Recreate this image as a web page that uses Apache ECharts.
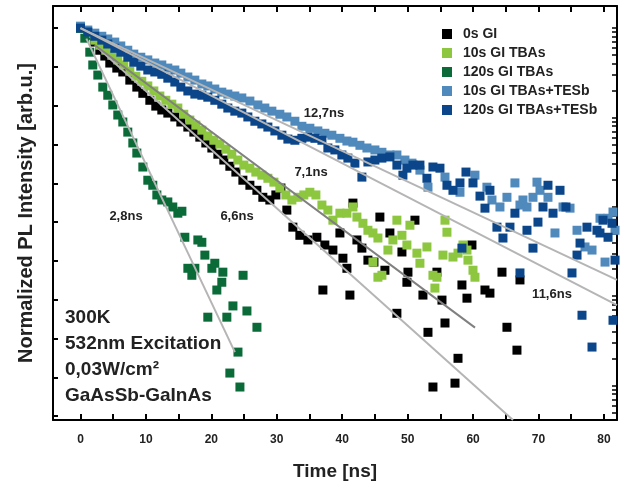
<!DOCTYPE html>
<html>
<head>
<meta charset="utf-8">
<script src="https://cdn.jsdelivr.net/npm/echarts@6/dist/echarts.min.js"></script>
<style>
  html, body { margin: 0; padding: 0; background: #fff; }
  #chart { width: 631px; height: 490px; }
</style>
</head>
<body>
<div id="chart"></div>
<script>
// time [ns] and ln(normalized PL intensity)
const t0sGI = [0,1.12,2.19,2.95,3.72,4.48,5.55,6.47,7.54,8.61,9.53,10.6,11.51,12.43,13.35,14.42,15.34,16.41,17.33,18.24,19.16,20.08,21.0,21.91,22.83,23.75,24.82,25.89,26.96,27.87,28.94,29.86,30.63,31.54,32.46,33.53,34.76,36.13,37.05,37.35,38.58,39.65,40.11,40.72,41.18,41.64,42.25,43.01,43.93,44.85,45.76,46.53,47.29,48.36,49.13,49.89,50.05,51.12,52.34,53.11,53.87,54.48,55.25,55.71,57.24,57.7,58.3,59.07,59.83,61.82,62.58,64.42,65.18,66.71,67.17];
const ln0sGI = [0,-0.18,-0.36,-0.57,-0.72,-0.90,-1.03,-1.13,-1.34,-1.52,-1.68,-1.86,-2.01,-2.11,-2.19,-2.29,-2.42,-2.55,-2.68,-2.81,-2.96,-3.09,-3.25,-3.40,-3.56,-3.71,-3.92,-4.05,-4.18,-4.36,-4.43,-4.30,-4.12,-4.69,-5.13,-5.34,-5.46,-5.39,-6.75,-5.59,-5.72,-5.28,-5.93,-6.19,-6.88,-4.51,-5.46,-5.67,-5.98,-6.03,-4.87,-6.24,-5.28,-7.35,-5.77,-6.55,-6.29,-4.95,-6.88,-7.84,-9.25,-6.29,-7.01,-7.60,-9.15,-8.51,-6.62,-6.96,-5.59,-6.75,-6.83,-6.29,-7.71,-8.30,-6.49];

const t10sTBAs = [0,1.12,2.19,2.95,3.87,4.79,5.7,6.62,7.54,8.46,9.37,10.29,11.21,12.13,13.04,13.96,14.88,15.79,16.71,17.63,18.55,19.46,20.38,21.3,22.22,23.13,24.05,24.97,25.89,26.8,27.72,28.64,29.56,30.47,31.39,32.31,33.23,34.14,35.06,35.98,36.9,37.81,38.58,39.65,40.72,41.64,42.25,43.17,43.93,44.7,44.7,45.46,45.46,46.07,46.99,47.75,48.36,49.13,49.89,50.35,51.42,51.88,52.95,53.87,54.17,54.48,55.4,55.71,56.01,56.93,57.7,58.46,59.07,59.22,59.99,60.29];
const ln10sTBAs = [0,-0.15,-0.31,-0.44,-0.57,-0.70,-0.82,-0.95,-1.11,-1.24,-1.37,-1.49,-1.62,-1.75,-1.86,-1.96,-2.06,-2.22,-2.37,-2.50,-2.63,-2.78,-2.89,-2.99,-3.12,-3.25,-3.40,-3.53,-3.61,-3.71,-3.79,-3.87,-3.97,-4.12,-4.30,-4.43,-4.36,-4.30,-4.23,-4.30,-4.56,-4.69,-4.95,-4.77,-4.77,-4.61,-4.87,-5.03,-5.21,-5.28,-6.03,-5.41,-6.42,-6.37,-5.72,-5.46,-4.95,-5.34,-5.59,-5.08,-5.80,-6.06,-5.64,-6.37,-6.70,-6.42,-5.85,-4.95,-5.26,-5.90,-5.80,-5.59,-5.72,-5.98,-6.24,-6.42];

const t120sTBAs = [0,0.66,1.42,1.88,2.65,3.41,4.17,4.94,5.7,6.47,7.23,8.0,8.61,9.53,10.29,11.05,11.67,12.43,13.35,14.11,14.88,15.5,15.95,16.41,17.02,17.48,17.94,18.55,19.01,19.46,20.08,20.53,20.84,21.6,21.76,22.37,22.83,23.3,24.07,24.37,24.85,25.44,26.97];
const ln120sTBAs = [0,-0.26,-0.62,-0.95,-1.21,-1.52,-1.73,-1.98,-2.24,-2.42,-2.68,-2.96,-3.22,-3.58,-3.92,-4.05,-4.30,-4.43,-4.48,-4.61,-4.77,-4.72,-5.39,-6.19,-6.37,-6.19,-5.46,-5.52,-5.85,-7.45,-6.19,-6.06,-6.75,-6.55,-6.29,-7.45,-8.89,-7.16,-8.35,-9.25,-6.37,-7.29,-7.71];

const t10sTESb = [0,1.12,2.19,3.26,4.17,5.24,6.16,7.23,8.15,9.22,10.29,11.36,12.43,13.35,14.42,15.34,16.41,17.48,18.55,19.46,20.53,21.6,22.52,23.59,24.66,25.89,27.11,28.18,29.25,30.47,31.54,32.77,33.84,35.06,36.28,37.35,38.42,39.65,40.72,41.64,42.71,43.78,45.0,46.07,47.29,48.36,49.59,50.66,51.88,53.11,55.71,58.0,60.29,62.12,62.89,65.18,66.4,67.17,68.24,69.16,69.77,71.45,72.52,74.82,75.89,77.11,78.18,79.4,80.17,80.63,81.39,81.7,64.11,67.63,73.75,70.23];
const ln10sTESb = [0.05,-0.05,-0.13,-0.21,-0.28,-0.36,-0.46,-0.57,-0.67,-0.75,-0.82,-0.90,-0.95,-1.03,-1.08,-1.16,-1.26,-1.34,-1.44,-1.49,-1.57,-1.65,-1.70,-1.75,-1.80,-1.88,-1.98,-2.06,-2.14,-2.22,-2.29,-2.40,-2.53,-2.58,-2.65,-2.71,-2.76,-2.84,-2.91,-2.94,-3.02,-3.09,-3.14,-3.20,-3.27,-3.27,-3.40,-3.48,-3.66,-4.10,-3.84,-4.23,-3.79,-4.10,-4.43,-4.36,-3.99,-4.56,-4.61,-4.36,-3.97,-4.36,-5.28,-4.64,-5.21,-5.64,-5.72,-4.90,-6.03,-4.90,-4.74,-5.21,-4.61,-4.43,-4.61,-4.18];

const t120sTESb = [0,1.12,2.19,3.26,4.17,5.24,6.16,7.23,8.15,9.22,10.29,11.36,12.43,13.35,14.42,15.34,16.41,17.48,18.55,19.46,20.53,21.6,22.52,23.59,24.66,25.58,26.65,27.72,28.64,29.71,30.78,31.7,32.77,33.84,34.76,35.83,36.9,37.81,38.88,39.95,40.87,41.94,43.01,43.93,45.0,46.07,47.29,48.36,49.28,49.89,50.81,51.88,52.95,53.87,54.94,56.01,56.93,58.0,58.3,58.92,59.99,61.06,61.82,62.58,63.65,64.57,65.64,66.4,67.17,68.24,69.16,69.92,70.69,71.45,72.22,73.29,74.2,75.12,75.89,76.35,76.65,77.41,78.18,78.94,79.4,79.86,80.63,81.24,81.39,81.7];
const ln120sTESb = [0,-0.10,-0.21,-0.31,-0.41,-0.52,-0.62,-0.75,-0.88,-0.98,-1.08,-1.13,-1.19,-1.29,-1.39,-1.52,-1.62,-1.70,-1.73,-1.78,-1.86,-1.96,-2.06,-2.14,-2.19,-2.29,-2.40,-2.47,-2.55,-2.65,-2.76,-2.86,-2.89,-2.84,-2.81,-2.84,-2.89,-3.09,-3.14,-3.27,-3.35,-3.48,-3.84,-3.45,-3.40,-3.35,-3.32,-3.53,-3.79,-3.61,-3.53,-3.53,-3.87,-3.58,-3.61,-4.05,-4.18,-3.99,-5.67,-3.71,-3.99,-4.33,-4.64,-4.18,-5.13,-5.41,-5.13,-4.77,-6.31,-5.21,-5.67,-5.0,-4.61,-4.05,-4.77,-4.18,-4.61,-6.31,-5.85,-5.54,-7.40,-5.13,-8.22,-5.21,-5.28,-4.95,-5.39,-5.03,-7.53,-5.98];

// mono-exponential fits: end points (time, ln I)
const fitT  = [[0.9, 23.6], [2.2, 66.1], [2.2, 60.3], [0, 82], [0, 82]];
const fitLn = [[-0.27, -8.35], [-0.44, -10.1], [-0.44, -7.72], [0, -6.49], [0, -7.14]];
const fitColors = ["#b5b5b5", "#b5b5b5", "#808080", "#b5b5b5", "#b5b5b5"];

const seriesNames = ["0s GI", "10s GI TBAs", "120s GI TBAs", "10s GI TBAs+TESb", "120s GI TBAs+TESb"];
const seriesColors = ["#000000", "#8dc63f", "#0b6b38", "#5089bb", "#0b468a"];
const seriesT = [t0sGI, t10sTBAs, t120sTBAs, t10sTESb, t120sTESb];
const seriesLn = [ln0sGI, ln10sTBAs, ln120sTBAs, ln10sTESb, ln120sTESb];

const xTicks = [0, 5, 10, 15, 20, 25, 30, 35, 40, 45, 50, 55, 60, 65, 70, 75, 80];
const xLabels = [0, 10, 20, 30, 40, 50, 60, 70, 80];
const yTicks = [0, -1, -2, -3, -4, -5, -6, -7, -8, -9, -10];

const X_MIN = -4.2, X_MAX = 82;
const Y_MIN = -10.1, Y_MAX = 0.57;
// right frame: decadic minor ticks in ln units
let rightTicks = [];
for (let n = -5; n <= 0; n++) {
  for (let k = 1; k <= 9; k++) {
    const v = Math.log(k * Math.pow(10, n));
    if (v >= Y_MIN && v <= Y_MAX) rightTicks.push(v);
  }
}

const FONT = "Liberation Sans, Arial, sans-serif";

const myChart = echarts.init(document.getElementById("chart"));

let series = seriesNames.map(function (name, i) {
  return {
    name: name,
    type: "scatter",
    symbol: "rect",
    symbolSize: 9,
    itemStyle: { color: seriesColors[i], opacity: 1 },
    data: seriesT[i].map(function (t, j) { return [t, seriesLn[i][j]]; }),
    z: 2
  };
});

fitT.forEach(function (tt, i) {
  series.push({
    type: "line",
    showSymbol: false,
    silent: true,
    lineStyle: { color: fitColors[i], width: 2 },
    data: [[tt[0], fitLn[i][0]], [tt[1], fitLn[i][1]]],
    z: 3
  });
});

function label(text, x, y, size) {
  return {
    type: "text",
    x: x,
    y: y,
    z: 10,
    style: {
      text: text,
      font: "bold " + size + "px " + FONT,
      fill: "#222",
      align: "center",
      verticalAlign: "middle"
    }
  };
}

let option = {
  animation: false,
  grid: { left: 53, right: 14, top: 6, bottom: 70 },
  legend: {
    data: seriesNames,
    orient: "vertical",
    left: 437,
    top: 22,
    icon: "rect",
    itemWidth: 10,
    itemHeight: 10,
    itemGap: 5,
    textStyle: { fontSize: 14, fontWeight: "bold", fontFamily: FONT, color: "#222", padding: [0, 0, 0, 6] }
  },
  xAxis: [
    {
      type: "value",
      min: X_MIN,
      max: X_MAX,
      position: "bottom",
      name: "Time [ns]",
      nameLocation: "middle",
      nameGap: 42,
      nameTextStyle: { fontSize: 19, fontWeight: "bold", fontFamily: FONT, color: "#222" },
      axisLine: { onZero: false, lineStyle: { color: "#000", width: 2 } },
      axisTick: { inside: true, length: 6, customValues: xTicks, lineStyle: { color: "#000", width: 2 } },
      axisLabel: { customValues: xLabels, margin: 14, fontSize: 12, fontWeight: "bold", fontFamily: FONT, color: "#222" },
      splitLine: { show: false }
    },
    {
      type: "value",
      min: X_MIN,
      max: X_MAX,
      position: "top",
      axisLine: { onZero: false, lineStyle: { color: "#000", width: 2 } },
      axisTick: { inside: true, length: 6, customValues: xTicks, lineStyle: { color: "#000", width: 2 } },
      axisLabel: { show: false },
      splitLine: { show: false }
    }
  ],
  yAxis: [
    {
      type: "value",
      min: Y_MIN,
      max: Y_MAX,
      position: "left",
      name: "Normalized PL Intensity [arb.u.]",
      nameLocation: "middle",
      nameGap: 17,
      nameTextStyle: { fontSize: 20, fontWeight: "bold", fontFamily: FONT, color: "#222" },
      axisLine: { onZero: false, lineStyle: { color: "#000", width: 2 } },
      axisTick: { inside: true, length: 5, customValues: yTicks, lineStyle: { color: "#000", width: 2 } },
      axisLabel: { show: false },
      splitLine: { show: false }
    },
    {
      type: "value",
      min: Y_MIN,
      max: Y_MAX,
      position: "right",
      axisLine: { onZero: false, lineStyle: { color: "#000", width: 2 } },
      axisTick: { inside: true, length: 5, customValues: rightTicks, lineStyle: { color: "#000", width: 1.5 } },
      axisLabel: { show: false },
      splitLine: { show: false }
    }
  ],
  graphic: [
    label("12,7ns", 324, 113, 13),
    label("7,1ns", 311, 172, 13),
    label("2,8ns", 126, 216, 13),
    label("6,6ns", 237, 216, 13),
    label("11,6ns", 552, 294, 13),
    {
      type: "text",
      left: 65,
      top: 305,
      z: 10,
      style: {
        text: "300K\n532nm Excitation\n0,03W/cm²\nGaAsSb-GaInAs",
        font: "bold 19px " + FONT,
        lineHeight: 26,
        fill: "#222"
      }
    }
  ],
  series: series
};

myChart.setOption(option);
window.addEventListener("resize", function () { myChart.resize(); });
</script>
</body>
</html>
